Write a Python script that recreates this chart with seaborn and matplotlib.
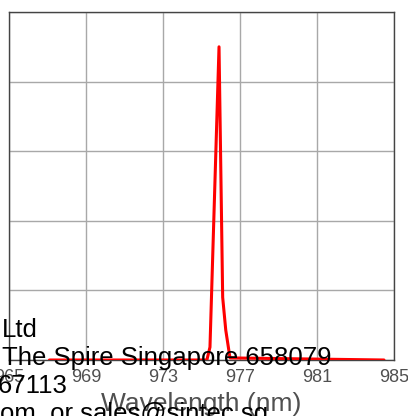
import matplotlib
matplotlib.use("Agg")
import matplotlib.pyplot as plt
import seaborn as sns
import pandas as pd

# --- data ---
wavelength = [967.1, 975.28, 975.44, 975.91, 976.10, 976.26, 976.48, 984.48]
intensity = [0.0, 0.0, 0.037, 0.90, 0.18, 0.086, 0.006, 0.0]
x_ticks = [965, 969, 973, 977, 981, 985]
y_grid = [0.0, 0.2, 0.4, 0.6, 0.8, 1.0]

overlay_lines = [
    ("Ltd", 38, 337),
    ("The Spire Singapore 658079", 331, 365),
    ("67113", 68, 393),
    ("om, or sales@sintec.sg", 268, 421),
]

df = pd.DataFrame({"wavelength": wavelength, "intensity": intensity})

sns.set_style("white")
plt.rcParams["font.family"] = ["Liberation Sans", "DejaVu Sans"]

W, H = 408, 416
fig = plt.figure(figsize=(W / 100, H / 100), dpi=100)
ax = fig.add_axes([9 / W, (H - 360) / H, (394 - 9) / W, (360 - 12) / H])

sns.lineplot(data=df, x="wavelength", y="intensity", color="#ff0000",
             linewidth=2.2, ax=ax, zorder=3)

ax.set_xlim(965, 985)
ax.set_ylim(0, 1)
ax.set_xticks(x_ticks)
ax.set_xticklabels([str(t) for t in x_ticks], color="#505050", fontsize=13)
ax.set_yticks(y_grid)
ax.set_yticklabels([])
ax.tick_params(axis="x", length=2, width=0.8, color="#555555", pad=4.5)
ax.tick_params(axis="y", length=0)
ax.grid(True, color="#a8a8a8", linewidth=1.0)
for s in ax.spines.values():
    s.set_color("#444444")
    s.set_linewidth(1.0)

ax.set_xlabel("Wavelength (nm)", fontsize=19, color="#505050", labelpad=4)
ax.set_ylabel("")

# watermark text from the source page, clipped by the figure edge
for txt, xr, yb in overlay_lines:
    fig.text(xr / W, 1 - yb / H, txt, ha="right", va="baseline",
             fontsize=18.5, color="black")

fig.savefig("out.png", dpi=100)
